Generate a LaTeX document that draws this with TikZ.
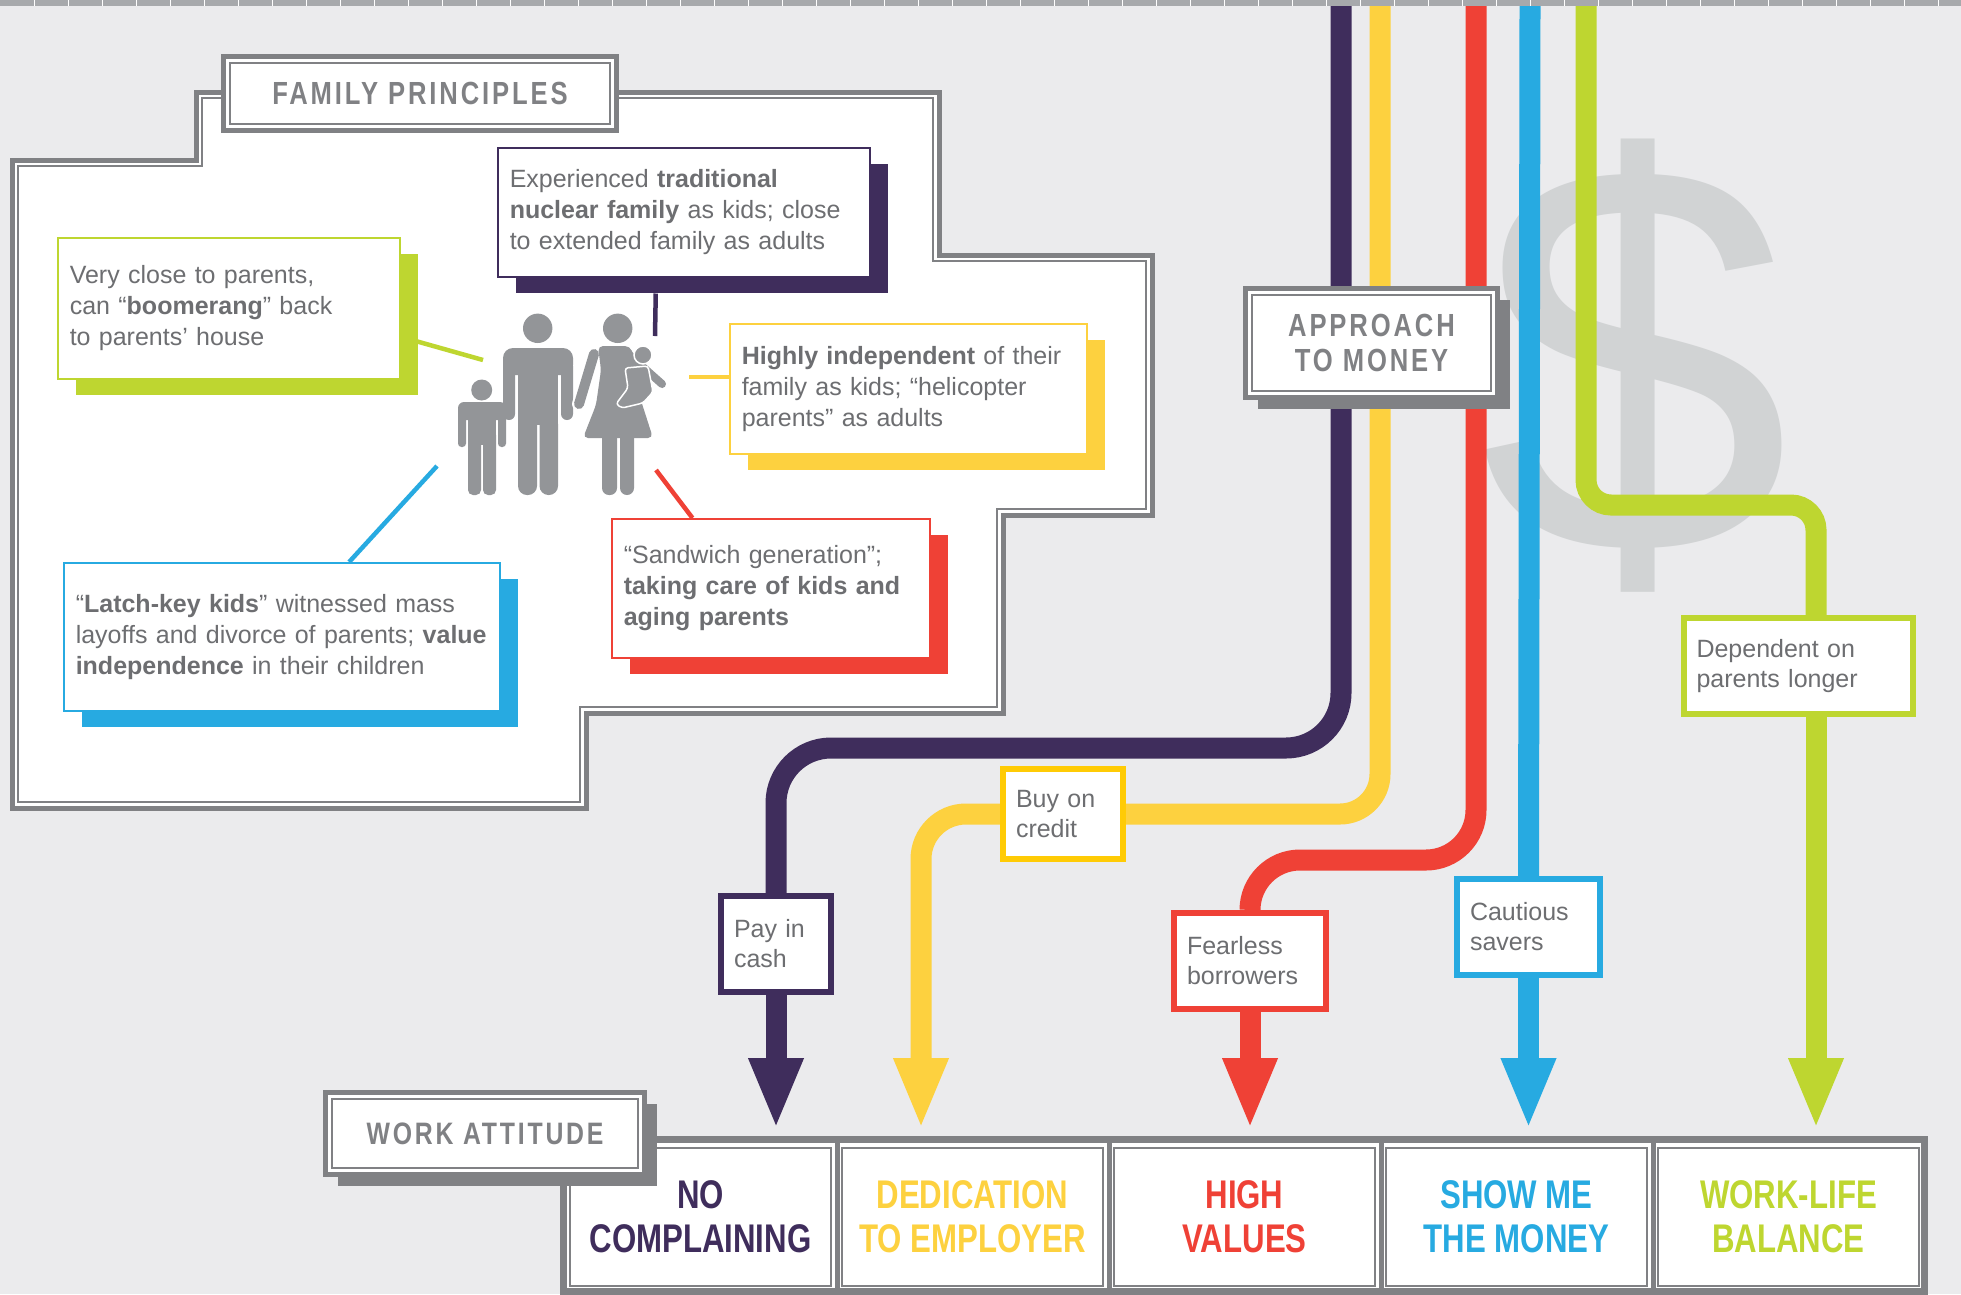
\documentclass[tikz,border=0pt]{standalone}
\usepackage{fontspec}
\setmainfont{Liberation Sans}
\newfontfamily\headfont[FakeStretch=0.8,LetterSpace=9]{Liberation Sans}
\newfontfamily\cellfont[FakeStretch=0.78]{Liberation Sans}
\usepackage{tikz}
\usetikzlibrary{arrows.meta,calc,shadows}
\pgfdeclarelayer{base}
\pgfdeclarelayer{lanes}
\pgfsetlayers{base,lanes,main}

\definecolor{paper}{HTML}{EBEBED}
\definecolor{band}{HTML}{A7A9AC}
\definecolor{frame}{HTML}{808184}
\definecolor{txt}{HTML}{6D6E71}
\definecolor{figure}{HTML}{939598}
\definecolor{dollar}{HTML}{D1D3D4}
\definecolor{cpurple}{HTML}{3F2D5C}
\definecolor{cyellow}{HTML}{FDD13F}
\definecolor{cyelbox}{HTML}{FFCB05}
\definecolor{cred}{HTML}{EF4136}
\definecolor{cblue}{HTML}{27AAE1}
\definecolor{cgreen}{HTML}{BED630}

\tikzset{
  note/.style={draw=#1, line width=1.5pt, fill=white, text=txt, align=left,
    anchor=north west, inner xsep=12pt, inner ysep=0pt,
    font=\fontsize{25}{31}\selectfont,
    copy shadow={shadow xshift=18pt, shadow yshift=-16pt, draw=none, fill=#1}},
  tag/.style={draw=#1, line width=6pt, fill=white, text=txt, align=left,
    inner xsep=13pt, inner ysep=0pt, minimum height=96pt,
    font=\fontsize{25}{30}\selectfont},
  headbox/.style={draw=frame, line width=5pt, fill=white, text=frame,
    align=center, inner sep=0pt,
    font=\headfont\bfseries\fontsize{32}{35}\selectfont,
    path picture={\draw[frame, line width=1.5pt]
      ([shift={(6.5pt,-6.5pt)}]path picture bounding box.north west) rectangle
      ([shift={(-6.5pt,6.5pt)}]path picture bounding box.south east);}},
  headshadow/.style={copy shadow={shadow xshift=12pt, shadow yshift=-11pt,
    draw=none, fill=frame}},
  cell/.style={draw=frame, line width=2pt, fill=white, text=#1, align=center,
    minimum width=261pt, minimum height=138.5pt, inner sep=0pt,
    font=\cellfont\bfseries\fontsize{40}{44}\selectfont},
  lane/.style={draw=#1, line width=21pt},
  pin/.style={draw=#1, line width=4.5pt},
  icon/.style={fill=figure},
  tip/.style={-{Triangle[width=50pt,length=71pt]}}
}

\begin{document}
\begin{tikzpicture}[x=1pt,y=-1pt]
\useasboundingbox (0,0) rectangle (1961,1294);
\begin{pgfonlayer}{base}
\fill[paper] (0,0) rectangle (1961,1294);
% big dollar behind the lanes
\node[text=dollar, inner sep=0pt, font=\fontsize{560}{560}\selectfont] (dol) at (1635,366) {\$};
\end{pgfonlayer}

% family frame
\draw[frame, line width=5pt, fill=white] (12,160) -- (196,160) -- (196,92) -- (939,92) -- (939,255)
  -- (1152,255) -- (1152,515) -- (1003,515) -- (1003,713) -- (586,713) -- (586,808) -- (12,808) -- cycle;
\draw[frame, line width=1.5pt] (18,166) -- (202,166) -- (202,98) -- (933,98) -- (933,261)
  -- (1146,261) -- (1146,509) -- (997,509) -- (997,707) -- (580,707) -- (580,802) -- (18,802) -- cycle;
\node[headbox, minimum width=393pt, minimum height=74pt] (family) at (420,93.5) {FAMILY PRINCIPLES};

% ends of the pins at the family
\coordinate (kidG) at (483,360);
\coordinate (dadP) at (655,336);
\coordinate (momY) at (689,377);
\coordinate (momR) at (656,470);
\coordinate (kidB) at (437,466);

\node[note=cpurple, text width=348pt, minimum height=129pt] (nuclear) at (497,147)
  {Experienced \textbf{traditional}\\ \textbf{nuclear family} as kids; close\\ to extended family as adults};
\node[note=cgreen, text width=318pt, minimum height=141pt] (boomerang) at (57,237)
  {Very close to parents,\\ can “\textbf{boomerang}” back\\ to parents’ house};
\node[note=cyellow, text width=333pt, minimum height=130pt] (helicopter) at (729,323)
  {\textbf{Highly independent} of their\\ family as kids; “helicopter\\ parents” as adults};
\node[note=cblue, text width=412pt, minimum height=148pt] (latchkey) at (63,562)
  {“\textbf{Latch-key kids}” witnessed mass\\ layoffs and divorce of parents; \textbf{value}\\ \textbf{independence} in their children};
\node[note=cred, text width=294pt, minimum height=139pt] (sandwich) at (611,518)
  {“Sandwich generation”;\\ \textbf{taking care of kids and}\\ \textbf{aging parents}};

\draw[pin=cgreen] (kidG) -- ($(boomerang.south east)!0.3!(boomerang.north east)$);
\draw[pin=cpurple] (dadP) -- ($(nuclear.south west)!0.425!(nuclear.south east)+(0,16)$);
\draw[pin=cyellow] (momY) -- (momY -| helicopter.west);
\draw[pin=cred] (momR) -- ($(sandwich.north west)!0.255!(sandwich.north east)$);
\draw[pin=cblue] (kidB) -- ($(latchkey.north west)!0.654!(latchkey.north east)$);

% family figures
\fill[icon] (481.7,390) circle (10.5);
\fill[icon, rounded corners=6pt] (458,402) rectangle (506,420);
\fill[icon, rounded corners=3.5pt] (458,410) rectangle (466,447);
\fill[icon, rounded corners=3.5pt] (498,410) rectangle (506,447);
\fill[icon] (468,405) rectangle (496,445);
\fill[icon, rounded corners=5pt] (468,430) rectangle (481,495);
\fill[icon, rounded corners=5pt] (483,430) rectangle (496,495);
\fill[icon] (537.7,328.3) circle (14.7);
\fill[icon, rounded corners=10pt] (503,348) rectangle (573,375);
\fill[icon, rounded corners=6pt] (503,360) rectangle (515,420);
\fill[icon, rounded corners=6pt] (561,360) rectangle (573,420);
\fill[icon] (518,352) rectangle (558,425);
\fill[icon, rounded corners=9pt] (518,415) rectangle (537,495);
\fill[icon, rounded corners=9pt] (539.5,415) rectangle (558,495);
\fill[icon] (617.7,328.3) circle (14.7);
\fill[icon, rounded corners=5pt] (598,346) -- (630,346) -- (636,362) -- (636,385) -- (653,438)
  -- (583,438) -- (596,405) -- (601,370) -- cycle;
\fill[icon, rounded corners=7pt] (602,425) rectangle (617,495);
\fill[icon, rounded corners=7pt] (620,425) rectangle (634,495);
\draw[white, line width=14pt, line cap=round] (589,372) -- (579,404);
\draw[figure, line width=10pt, line cap=round] (594,354) -- (579,404);
\draw[figure, line width=8pt, line cap=round] (626,352) -- (662,384);
\filldraw[icon, draw=white, line width=1.5pt] (643,355) circle (9);
\filldraw[icon, draw=white, line width=1.5pt, rounded corners=3pt] (625,368) -- (648,366)
  -- (653,392) -- (643,403) -- (622,408) -- (616,404) -- (628,388) -- cycle;

% lanes from the top
\coordinate (ptop) at (1341,6);
\coordinate (ytop) at (1380,6);
\coordinate (rtop) at (1476,6);
\coordinate (btop) at (1530,6);
\coordinate (gtop) at (1586,6);
\coordinate (pbend) at (1341,748);
\coordinate (ybend) at (1380,814);
\coordinate (rbend) at (1476,860);
\coordinate (gbend) at (1586,505);
\coordinate (gdown) at (1816,505);
\coordinate (tipy) at (0,1129);
\coordinate (ytip) at (921,1129);

\node[tag=cpurple, text width=84pt] (cash) at (776,944) {Pay in\\cash};
\node[tag=cyelbox, text width=94pt, minimum height=90pt] (credit) at (1063,814) {Buy on\\credit};
\node[tag=cred, text width=126pt] (borrow) at (1250,961) {Fearless\\borrowers};
\node[tag=cblue, text width=117pt] (savers) at (1528.5,927) {Cautious\\savers};
\node[tag=cgreen, text width=203pt] (depend) at (1798,666) {Dependent on\\parents longer};

\node[headbox, headshadow, minimum width=252pt, minimum height=109pt] (money) at (1371.5,343) {APPROACH\\TO MONEY};

\begin{pgfonlayer}{lanes}
\draw[lane=cpurple, rounded corners=55pt] (ptop) -- (pbend) -| (cash.north);
\draw[lane=cyellow, rounded corners=40pt] (ytop) -- (ybend) -- (credit.east);
\draw[lane=cred, rounded corners=50pt] (rtop) -- (rbend) -| (borrow.north);
\draw[lane=cblue] (btop) -- (savers.north);
\draw[lane=cgreen, rounded corners=25pt] (gtop) -- (gbend) -- (gdown) -- (gdown |- depend.north);
% arrows down to the attitudes
\draw[lane=cpurple, tip] (cash.south) -- (cash.south |- tipy);
\draw[lane=cyellow, tip, rounded corners=45pt] (credit.west) -| (ytip);
\draw[lane=cred, tip] (borrow.south) -- (borrow.south |- tipy);
\draw[lane=cblue, tip] (savers.south) -- (savers.south |- tipy);
\draw[lane=cgreen, tip] (depend.south -| gdown) -- (gdown |- tipy);
\end{pgfonlayer}

% work attitude table
\draw[frame, line width=7pt, fill=white] (563.5,1139) rectangle (1924.5,1291);
\node[cell=cpurple] (nocomp) at (700.5,1216.75) {NO\\COMPLAINING};
\node[cell=cyellow] (dedic) at (972.5,1216.75) {DEDICATION\\TO EMPLOYER};
\node[cell=cred] (highv) at (1244.5,1216.75) {HIGH\\VALUES};
\node[cell=cblue] (showme) at (1516.5,1216.75) {SHOW ME\\THE MONEY};
\node[cell=cgreen] (worklife) at (1788.5,1216.75) {WORK-LIFE\\BALANCE};
\foreach \x in {837,1109,1381,1653}
  \draw[frame, line width=5pt] (\x,1143) -- (\x,1290);
\node[headbox, headshadow, minimum width=319pt, minimum height=82pt,
  font=\headfont\bfseries\fontsize{31}{34}\selectfont] (work) at (485,1133.5) {WORK ATTITUDE};

% top strip
\fill[band] (0,0) rectangle (1961,6);
\foreach \x in {34,68,...,1961}
  \draw[white, line width=1pt] (\x,0) -- (\x,6);
\end{tikzpicture}
\end{document}
